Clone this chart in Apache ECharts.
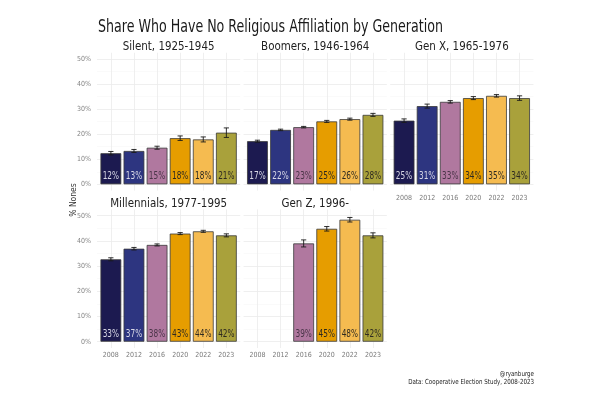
<!DOCTYPE html>
<html>
<head>
<meta charset="utf-8">
<script src="https://cdn.jsdelivr.net/npm/echarts@6/dist/echarts.min.js"></script>
<style>html,body{margin:0;padding:0;background:#fff}#c{width:600px;height:400px}</style>
</head>
<body>
<div id="c"></div>
<script>
// ---- data ----
const years = ['2008', '2012', '2016', '2020', '2022', '2023'];
const panelTitles = ['Silent, 1925-1945', 'Boomers, 1946-1964', 'Gen X, 1965-1976', 'Millennials, 1977-1995', 'Gen Z, 1996-'];
const silent = [12.4, 13.3, 14.6, 18.4, 17.9, 20.6];
const boomers = [17.2, 21.7, 22.8, 25.1, 26.0, 27.7];
const genX = [25.4, 31.2, 32.9, 34.4, 35.3, 34.4];
const millennials = [32.7, 36.9, 38.4, 42.9, 43.8, 42.2];
const genZ = [null, null, 39.0, 44.8, 48.4, 42.2];
const silentErr = [0.7, 0.6, 0.6, 0.9, 1.0, 1.9];
const boomersErr = [0.4, 0.3, 0.3, 0.4, 0.4, 0.6];
const genXErr = [0.7, 0.8, 0.5, 0.6, 0.5, 0.9];
const millennialsErr = [0.6, 0.5, 0.4, 0.4, 0.4, 0.6];
const genZErr = [null, null, 1.4, 0.9, 0.9, 1.0];
const yTicks = [0, 10, 20, 30, 40, 50];

const values = [silent, boomers, genX, millennials, genZ];
const errors = [silentErr, boomersErr, genXErr, millennialsErr, genZErr];

// ---- styles ----
const FONT = "'DejaVu Sans Condensed','Liberation Sans Narrow','Liberation Sans',sans-serif";
const barColors = ['#1c1a50', '#2d3580', '#b0789f', '#e69d00', '#f5bb50', '#a9a13b'];
const labelColors = ['#d8d8e6', '#d8d8e6', '#4a3448', '#2e2a20', '#2e2a20', '#2e2a20'];
const rows = [{y50: 59, y0: 184.3}, {y50: 215.7, y0: 341.7}];
const colLefts = [97, 243.6, 390.2];
const unit = 23.1;
const panelW = 6.2 * unit;

const grid = [], xAxis = [], yAxis = [], series = [], graphic = [];

values.forEach((vals, p) => {
  const row = rows[p < 3 ? 0 : 1];
  const col = p % 3;
  const left = colLefts[col];
  const ppu = (row.y0 - row.y50) / 50;
  const pTop = row.y50 - 2.5 * ppu;
  const pBot = row.y0 + 2.5 * ppu;
  const showX = p >= 2;
  const showY = col === 0;

  // background grid (horizontal gridlines)
  grid.push({left: left, top: row.y50, width: panelW, height: row.y0 - row.y50, containLabel: false});
  xAxis.push({type: 'value', gridIndex: 2 * p, show: false, min: 0, max: 1});
  yAxis.push({
    type: 'value', gridIndex: 2 * p, min: yTicks[0], max: yTicks[yTicks.length - 1], interval: 10,
    axisLine: {show: false}, axisTick: {show: false},
    axisLabel: {show: showY, formatter: v => v + '%', color: '#858585', fontSize: 7, fontFamily: FONT, margin: 6},
    splitLine: {show: true, lineStyle: {color: '#ebebeb', width: 0.8}},
    minorTick: {show: false, splitNumber: 2},
    minorSplitLine: {show: true, lineStyle: {color: '#f4f4f4', width: 0.5}}
  });

  // foreground grid (bars)
  grid.push({left: left + 0.1 * unit, top: pTop, width: 6 * unit, height: pBot - pTop, containLabel: false});
  xAxis.push({
    type: 'category', gridIndex: 2 * p + 1, data: years,
    axisLine: {show: false}, axisTick: {show: false, alignWithLabel: true},
    axisLabel: {show: showX, color: '#7a7a7a', fontSize: 7, fontFamily: FONT, margin: 4, interval: 0},
    splitLine: {show: true, alignWithLabel: true, interval: 0, lineStyle: {color: '#ebebeb', width: 0.8}}
  });
  yAxis.push({type: 'value', gridIndex: 2 * p + 1, min: -2.5, max: 52.5, show: false, splitLine: {show: false}});

  series.push({
    type: 'bar', xAxisIndex: 2 * p + 1, yAxisIndex: 2 * p + 1,
    barWidth: 0.9 * unit,
    data: vals.map((v, i) => v == null ? null : {
      value: v,
      itemStyle: {color: barColors[i], borderColor: '#3a3a3a', borderWidth: 0.8}
    }),
    label: {show: false},
    z: 2
  });

  const errData = [];
  vals.forEach((v, i) => { if (v != null) errData.push([i, v - errors[p][i], v + errors[p][i], v]); });
  series.push({
    type: 'custom', xAxisIndex: 2 * p + 1, yAxisIndex: 2 * p + 1, z: 3,
    data: errData,
    encode: {x: 0, y: [1, 2]},
    renderItem: (params, api) => {
      const x = api.value(0);
      const lo = api.coord([x, api.value(1)]);
      const hi = api.coord([x, api.value(2)]);
      const base = api.coord([x, 0]);
      const cw = 2.6;
      const st = {stroke: '#1a1a1a', lineWidth: 0.9};
      return {type: 'group', children: [
        {type: 'line', shape: {x1: lo[0], y1: lo[1], x2: hi[0], y2: hi[1]}, style: st},
        {type: 'line', shape: {x1: lo[0] - cw, y1: lo[1], x2: lo[0] + cw, y2: lo[1]}, style: st},
        {type: 'line', shape: {x1: hi[0] - cw, y1: hi[1], x2: hi[0] + cw, y2: hi[1]}, style: st},
        {type: 'text', x: base[0], y: base[1] - 7.6, scaleX: 0.78,
         style: {text: Math.round(api.value(3)) + '%', fill: labelColors[x], font: '10.5px ' + FONT, align: 'center', verticalAlign: 'middle'}}
      ]};
    }
  });

  graphic.push({
    type: 'text', x: left + panelW / 2, y: pTop - 6, scaleX: 0.88,
    style: {text: panelTitles[p], fill: '#222', font: '13px ' + FONT, align: 'center', verticalAlign: 'middle'}
  });
});

graphic.push({
  type: 'text', x: 98, y: 27, scaleX: 0.78,
  style: {text: 'Share Who Have No Religious Affiliation by Generation', fill: '#1a1a1a', font: '18px ' + FONT, align: 'left', verticalAlign: 'middle'}
});
graphic.push({
  type: 'text', x: 74, y: 200, rotation: Math.PI / 2,
  style: {text: '% Nones', fill: '#333', font: '8.5px ' + FONT, align: 'center', verticalAlign: 'middle'}
});
graphic.push({
  type: 'text', x: 534, y: 374, scaleX: 0.88, originX: 0,
  style: {text: '@ryanburge', fill: '#222', font: '7px ' + FONT, align: 'right', verticalAlign: 'middle'}
});
graphic.push({
  type: 'text', x: 534, y: 382, scaleX: 0.88,
  style: {text: 'Data: Cooperative Election Study, 2008-2023', fill: '#222', font: '7px ' + FONT, align: 'right', verticalAlign: 'middle'}
});

const chart = echarts.init(document.getElementById('c'), null, {renderer: 'canvas'});
chart.setOption({
  backgroundColor: '#ffffff',
  animation: false,
  grid, xAxis, yAxis, series, graphic
});
</script>
</body>
</html>
